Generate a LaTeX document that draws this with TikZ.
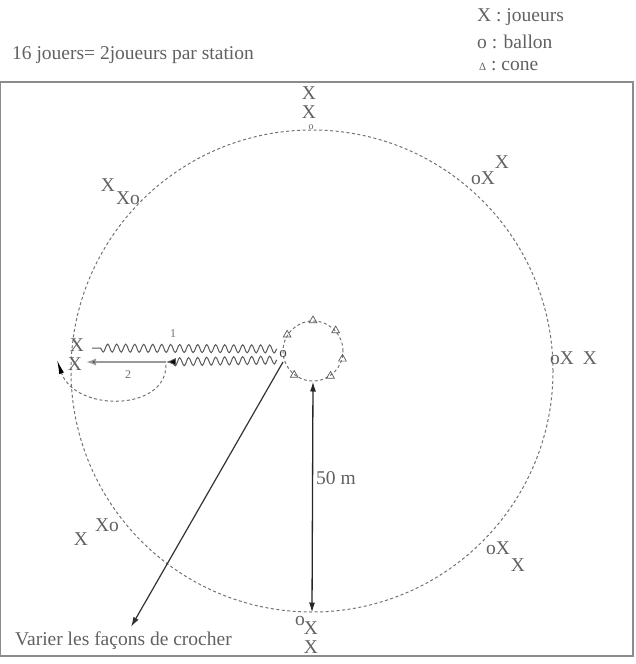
\documentclass[tikz,border=0pt]{standalone}
\usepackage{fontspec}
\setmainfont{Liberation Serif}
\usetikzlibrary{decorations.pathmorphing,arrows.meta,shapes.geometric}
\begin{document}
\begin{tikzpicture}[x=1pt,y=-1pt,
  txt/.style={text=black!62, font=\fontsize{19.5}{19.5}\selectfont, inner sep=0pt},
  lbl/.style={text=black!55, font=\fontsize{12}{12}\selectfont, inner sep=0pt},
  dashline/.style={draw=black!55, dash pattern=on 3pt off 2.5pt, line width=1pt},
  wave/.style={draw=black!65, line width=1pt, decorate,
     decoration={snake, amplitude=4pt, segment length=9pt, post length=6pt}},
  cone/.style={regular polygon, regular polygon sides=3, draw=black!65, line width=0.7pt,
     inner sep=0pt, minimum size=9pt},
  frame/.style={draw=black!45, line width=1.3pt},
  tip/.style={-{Latex[length=10pt,width=6pt]}}
]
\useasboundingbox (0,0) rectangle (636,664);
\draw[frame] (0.7,82) rectangle (633,656);

% header texts
\node[txt] (title) at (133,55) {16 jouers= 2joueurs par station};
\node[txt, anchor=west] (lg1) at (477,17) {X : joueurs};
\node[txt, anchor=west] (lg2) at (477,42) {o : ballon};
\node[txt, anchor=west] (lg3) at (479,66) {{\fontsize{11}{11}\selectfont Δ} : cone};

% circles
\node[circle, dashline, minimum size=482pt, inner sep=0pt] (big) at (312,371) {};
\node[circle, dashline, minimum size=60pt, inner sep=0pt] (small) at (313,351) {};

% cones on the small circle
\foreach \a/\n in {90/c1, 42/c2, -15/c3, -55/c4, -128/c5, 148/c6}
  \node[cone] (\n) at (small.\a) {};

% ball at the small circle
\node[txt, font=\fontsize{15}{15}\selectfont, text=black!75] (b0) at (283,354) {o};

% wavy runs
\coordinate (u1) at (92,348);
\coordinate (u2) at (277,349);
\coordinate (l2) at (277,360);
\coordinate (l1) at (166,362);
\coordinate (l0) at (86,362);
\draw[wave] (u2) -- (u1);
\draw[wave, -{Latex[length=10pt,width=8pt,fill=black]}] (l2) -- (l1);
\draw[draw=black!40, line width=1.6pt, -{Latex[length=10pt,width=7pt,fill=black]}] (l1) -- (l0);
\node[lbl] (n1) at (173,334) {1};
\node[lbl] (n2) at (128,375) {2};

% dashed return arc
\coordinate (a1) at (166,365);
\coordinate (a2) at (57,360);
\draw[dashline, -{Latex[length=14pt,width=5pt,color=black]}] (a1) .. controls (166,412) and (75,412) .. (a2);

% 50 m
\draw[{Latex[length=10pt,width=6pt]}-{Latex[length=10pt,width=6pt]}, draw=black!85, line width=1.3pt] (small.south) -- (big.south);
\node[txt] (m50) at (336,478) {50 m};

% long arrow and caption
\coordinate (ls) at (283,362);
\coordinate (le) at (131,627);
\draw[draw=black!80, line width=1.2pt, tip] (ls) -- (le);
\node[txt, anchor=west] (cap) at (15,641) {Varier les façons de crocher};

% stations
\node[txt] (t1) at (309,93) {X};
\node[txt] (t2) at (309,112) {X};
\node[txt, font=\fontsize{10}{10}\selectfont] (t3) at (311,127) {o};

\node[txt] (tr1) at (483,178) {oX};
\node[txt] (tr2) at (502,162) {X};

\node[txt] (r1) at (562,358) {oX};
\node[txt] (r2) at (590,358) {X};

\node[txt] (br1) at (498,548) {oX};
\node[txt] (br2) at (518,565) {X};

\node[txt] (b1) at (300,621) {o};
\node[txt] (b2) at (311,628) {X};
\node[txt] (b3) at (311,647) {X};

\node[txt] (bl1) at (81,539) {X};
\node[txt] (bl2) at (107,525) {Xo};

\node[txt] (l1x) at (77,345) {X};
\node[txt] (l2x) at (75,364) {X};

\node[txt] (tl1) at (108,185) {X};
\node[txt] (tl2) at (128,198) {Xo};
\end{tikzpicture}
\end{document}
